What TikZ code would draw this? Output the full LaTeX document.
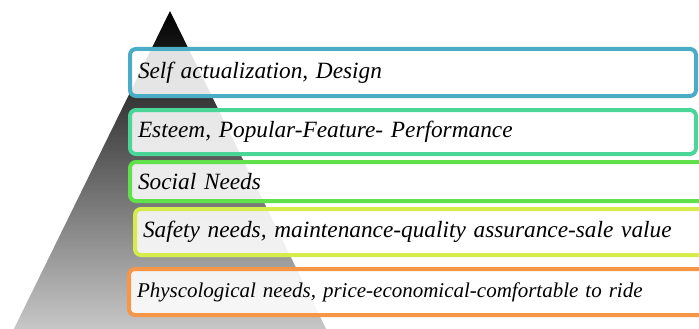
\documentclass[tikz,border=0pt]{standalone}
\usepackage{fontspec}
\setmainfont{Liberation Serif}
\usetikzlibrary{positioning}

\definecolor{selfblue}{RGB}{75,172,198}
\definecolor{esteemgreen}{RGB}{74,214,150}
\definecolor{socialgreen}{RGB}{96,224,74}
\definecolor{safetylime}{RGB}{214,236,74}
\definecolor{physorange}{RGB}{247,150,70}

\begin{document}
\begin{tikzpicture}[x=1pt, y=-1pt,
  lvl/.style={draw, line width=4pt, rounded corners=6pt, fill=white, fill opacity=0.88, text opacity=1,
    outer sep=0pt, inner sep=0pt, inner xsep=8pt, align=left, text width=550pt,
    font=\itshape\fontsize{23.3}{26}\selectfont}]
	\useasboundingbox (0,0) rectangle (699,329);
	\clip (0,0) rectangle (699,329);

	% pyramid
	\coordinate (apex) at (170,11);
	\shade[top color=black, middle color=black!75, bottom color=black!18] (apex) -- (6,345) -- (334,345) -- cycle;

	% levels
	\node[lvl, draw=selfblue, minimum height=47pt, anchor=north west] (self) at (130,49) {Self actualization, Design};
	\node[lvl, draw=esteemgreen, minimum height=44pt, below=14pt of self.south west, anchor=north west] (esteem) {Esteem, Popular-Feature- Performance};
	\node[lvl, draw=socialgreen, minimum height=39pt, text width=580pt, below=8pt of esteem.south west, anchor=north west] (social) {Social Needs};
	\node[lvl, draw=safetylime, minimum height=46pt, text width=580pt, below=8pt of social.south west, anchor=north west, xshift=5pt] (safety) {Safety needs, maintenance-quality assurance-sale value};
	\node[lvl, draw=physorange, minimum height=46pt, text width=580pt, below=14pt of safety.south west, anchor=north west, xshift=-6pt,
	  font=\itshape\fontsize{21}{24}\selectfont] (phys) {Physcological needs, price-economical-comfortable to ride};
\end{tikzpicture}
\end{document}
